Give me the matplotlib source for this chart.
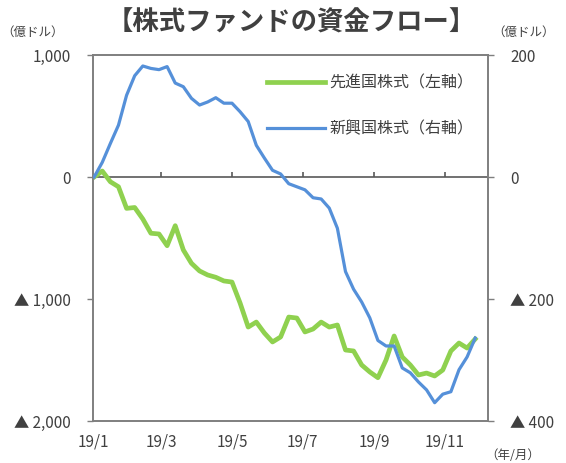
import matplotlib.pyplot as plt
import pandas as pd

plt.rcParams['font.family'] = ['Noto Sans CJK JP', 'DejaVu Sans']

# Weekly data, Jan 2019 - Nov 2019
dates = pd.date_range('2019-01-02', periods=48, freq='7D')

# Developed market equity funds (left axis, 100 mil USD)
developed = [0, 49, -39, -80, -257, -250, -344, -461, -467, -563,
             -399, -598, -707, -770, -803, -822, -852, -861, -1033, -1230,
             -1189, -1279, -1352, -1311, -1148, -1156, -1270, -1246, -1189, -1230,
             -1213, -1418, -1426, -1541, -1598, -1645, -1500, -1303, -1475, -1541,
             -1623, -1607, -1631, -1582, -1426, -1361, -1402, -1328]

# Emerging market equity funds (right axis, 100 mil USD)
emerging = [0, 24, 55, 85, 134, 166, 182, 178, 176, 181,
            154, 148, 129, 118, 123, 130, 121, 121, 107, 91,
            52, 31, 11, 5, -11, -16, -21, -34, -36, -51,
            -84, -155, -184, -205, -231, -268, -277, -277, -313, -321,
            -336, -349, -370, -356, -352, -316, -295, -264]

left_ticks = [1000, 0, -1000, -2000]
left_labels = ['1,000', '0', '▲ 1,000', '▲ 2,000']
right_ticks = [200, 0, -200, -400]
right_labels = ['200', '0', '▲ 200', '▲ 400']
month_ticks = pd.to_datetime(['2019-01-01', '2019-03-01', '2019-05-01',
                              '2019-07-01', '2019-09-01', '2019-11-01'])
month_labels = ['19/1', '19/3', '19/5', '19/7', '19/9', '19/11']

green = '#8FD14F'
blue = '#5590D9'
txt = '#404040'

fig = plt.figure(figsize=(5.66, 4.63), dpi=100)
ax = fig.add_axes([0.1643, 0.0907, 0.6978, 0.7905])
ax2 = ax.twinx()

ax.plot(dates, developed, color=green, lw=3.4, label='先進国株式（左軸）',
        solid_joinstyle='round', zorder=3)
ax2.plot(dates, emerging, color=blue, lw=2.3, label='新興国株式（右軸）',
         solid_joinstyle='round', zorder=3)

ax.set_ylim(-2000, 1000)
ax2.set_ylim(-400, 200)
ax.set_xlim(pd.Timestamp('2019-01-01'), pd.Timestamp('2019-12-08'))

ax.set_yticks(left_ticks)
ax.set_yticklabels(left_labels)
ax2.set_yticks(right_ticks)
ax2.set_yticklabels(right_labels)
ax.set_xticks(month_ticks)
ax.set_xticklabels(month_labels)

ax.tick_params(axis='x', length=0, pad=9, labelsize=11, colors=txt)
ax.tick_params(axis='y', length=4, width=1, labelsize=11, colors=txt, color='#7f7f7f', pad=12)
ax2.tick_params(axis='y', length=4, width=1, labelsize=11, colors=txt, color='#7f7f7f', pad=12)

for a in (ax, ax2):
    for s in a.spines.values():
        s.set_color('#7f7f7f')
        s.set_linewidth(1.2)

# zero line with upward month ticks
ax.axhline(0, color='#595959', lw=1.2, zorder=2)
ax.vlines(month_ticks[1:], 0, 45, color='#595959', lw=1.2, zorder=2)

h1, l1 = ax.get_legend_handles_labels()
h2, l2 = ax2.get_legend_handles_labels()
leg = ax2.legend(h1 + h2, l1 + l2, loc='upper right', bbox_to_anchor=(1.0, 0.985),
                 frameon=False, fontsize=11.5, handlelength=3.6, handletextpad=0.3,
                 labelspacing=1.8, labelcolor=txt)

fig.text(0.515, 0.951, '【株式ファンドの資金フロー】', ha='center', va='center',
         fontsize=19, fontweight='bold', color=txt)
fig.text(0.057, 0.930, '（億ドル）', ha='center', va='center', fontsize=9, color=txt)
fig.text(0.925, 0.930, '（億ドル）', ha='center', va='center', fontsize=9, color=txt)
fig.text(0.905, 0.016, '（年/月）', ha='center', va='center', fontsize=9, color=txt)

fig.savefig('out.png', dpi=100)
